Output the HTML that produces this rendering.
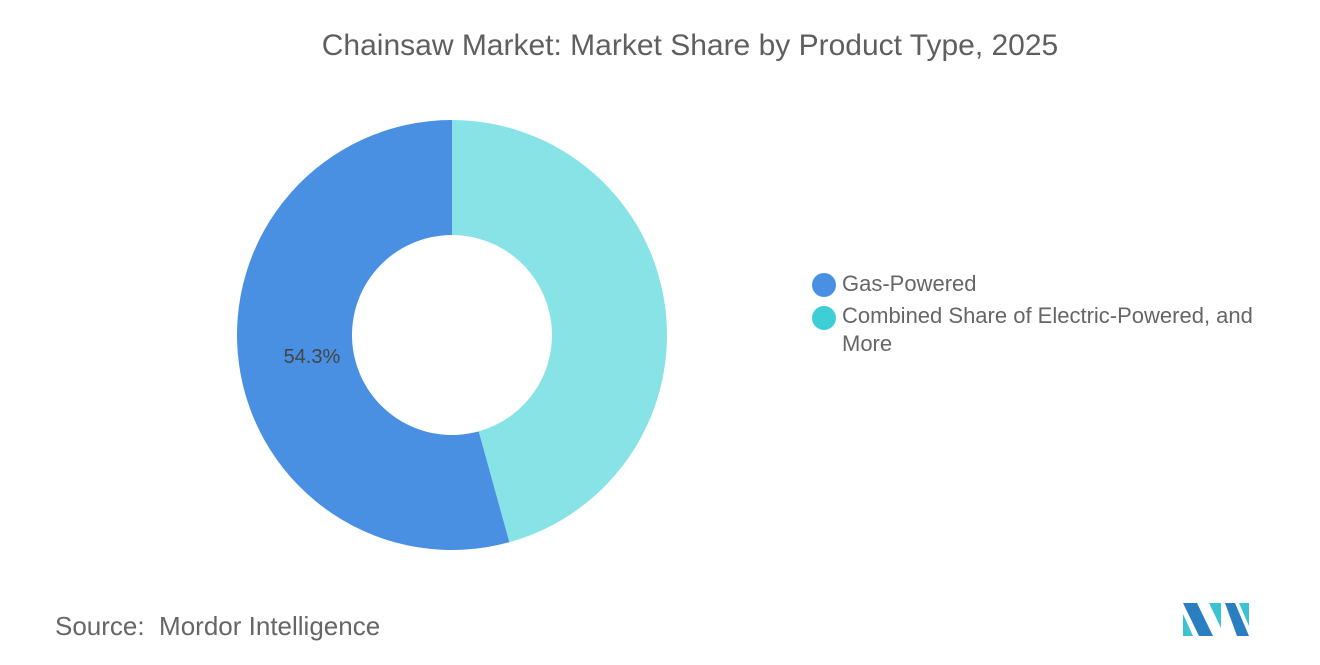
<!DOCTYPE html>
<html><head><meta charset="utf-8"><style>
body{margin:0;width:1320px;height:665px;background:#fff;font-family:"Liberation Sans",sans-serif;overflow:hidden;position:relative}
.t{position:absolute;color:#666;white-space:nowrap}
</style></head><body>
<div class="t" style="left:0;width:1380px;top:29px;text-align:center;font-size:30px;color:#5f5f5f">Chainsaw Market: Market Share by Product Type, 2025</div>
<svg id="c" width="1320" height="665" style="position:absolute;left:0;top:0"></svg>
<div class="t" style="left:842px;top:271px;font-size:22px">Gas-Powered</div>
<div class="t" style="left:842px;top:302px;font-size:22px;line-height:28px">Combined Share of Electric-Powered, and<br>More</div>
<div class="t" style="left:55px;top:611px;font-size:26px;color:#666">Source:&nbsp; Mordor Intelligence</div>
<svg width="70" height="40" style="position:absolute;left:1183px;top:600px">
<polygon points="0,3 14,3 30,36 16,36" fill="#2a7fc1"/><polygon points="0,14 10,36 0,36" fill="#3cc3d0"/>
<polygon points="26,3 38,3 38,28" fill="#3cc3d0"/><polygon points="42,3 52,3 66,36 54,36" fill="#2a7fc1"/><polygon points="56,3 66,3 66,26" fill="#3cc3d0"/>
</svg>
<script>
const categories=["Gas-Powered","Combined Share of Electric-Powered, and More"];
const values=[54.3,45.7];
const colors=["#4a90e2","#87e3e6"];
const legendColors=["#4a90e2","#3ecfd6"];
const labels=["54.3%",""];
const svg=document.getElementById('c');
const NS="http://www.w3.org/2000/svg";
const cx=452,cy=335,R=215,r=100;
const total=values.reduce((a,b)=>a+b,0);
function pt(a,rad){return [cx+rad*Math.sin(a),cy-rad*Math.cos(a)];}
let start=0;
const order=[1,0];
order.forEach(i=>{
 const sweep=values[i]/total*2*Math.PI;
 const a0=start,a1=start+sweep;
 const [x0,y0]=pt(a0,R),[x1,y1]=pt(a1,R),[x2,y2]=pt(a1,r),[x3,y3]=pt(a0,r);
 const lg=sweep>Math.PI?1:0;
 const p=document.createElementNS(NS,'path');
 p.setAttribute('d',`M${x0},${y0}A${R},${R} 0 ${lg} 1 ${x1},${y1}L${x2},${y2}A${r},${r} 0 ${lg} 0 ${x3},${y3}Z`);
 p.setAttribute('fill',colors[i]);
 
 
 svg.appendChild(p);
 if(labels[i]){
  const mid=(a0+a1)/2,[lx,ly]=pt(mid,(R+r)/2);
  const t=document.createElementNS(NS,'text');
  t.setAttribute('x',lx+16);t.setAttribute('y',ly+7);t.setAttribute('text-anchor','middle');
  t.setAttribute('font-size','20');t.setAttribute('fill','#444');t.setAttribute('font-family','Liberation Sans, sans-serif');
  t.textContent=labels[i];
  
  
  svg.appendChild(t);
 }
 start=a1;
});
categories.forEach((c,i)=>{
 const m=document.createElementNS(NS,'circle');
 m.setAttribute('cx',824);m.setAttribute('cy',285+i*33);m.setAttribute('r',12);m.setAttribute('fill',legendColors[i]);
 
 
 svg.appendChild(m);
});
</script>
</body></html>
